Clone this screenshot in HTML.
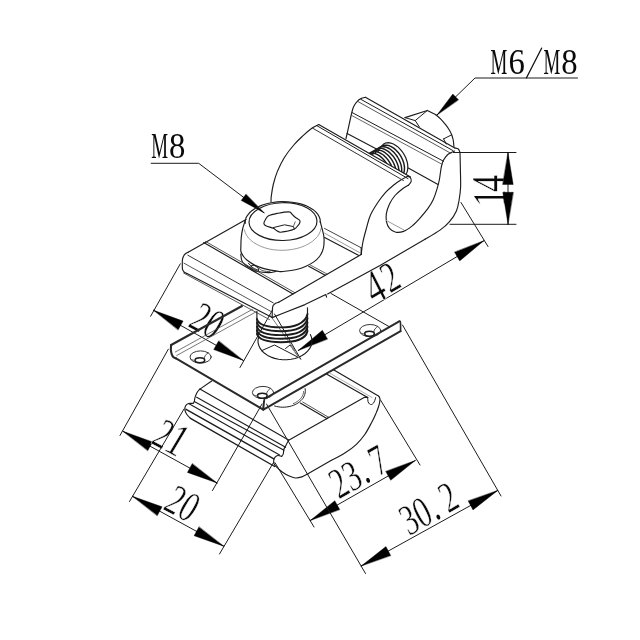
<!DOCTYPE html>
<html><head><meta charset="utf-8"><title>Clamp drawing</title>
<style>
html,body{margin:0;padding:0;background:#fff;}
body{width:640px;height:640px;overflow:hidden;}
svg{display:block}
svg text{font-family:"Liberation Serif",serif;fill:#0a0a0a;}
</style></head><body>
<svg width="640" height="640" viewBox="0 0 640 640" stroke-linecap="round" stroke-linejoin="round">
<rect width="640" height="640" fill="#fff"/>
<g opacity="0.999">
<g transform="translate(168.5 146.0) rotate(0) skewX(0)"><text transform="translate(-17.30 11.63) scale(0.5323 1)" font-size="35.5">M</text><text transform="translate(8.80 11.63) scale(0.9221 1)" font-size="35.50" text-anchor="middle">8</text></g>
<path d="M151.2,163.3 L198.7,163.3 L264.0,212.8" stroke="#1c1c1c" stroke-width="1.0" fill="none" />
<polygon points="264.0,212.8 241.2,200.4 245.9,194.2" fill="#000" stroke="#000" stroke-width="0.4"/>
<g transform="translate(534.3 62.8) rotate(0) skewX(0)"><text transform="translate(-43.70 11.63) scale(0.5323 1)" font-size="35.5">M</text><text transform="translate(-17.60 11.63) scale(0.9221 1)" font-size="35.50" text-anchor="middle">6</text><path d="M-7.80,15.03 L7.30,-14.63" stroke="#111" stroke-width="1.3" fill="none"/><text transform="translate(9.10 11.63) scale(0.5323 1)" font-size="35.5">M</text><text transform="translate(35.20 11.63) scale(0.9221 1)" font-size="35.50" text-anchor="middle">8</text></g>
<path d="M577.5,78.0 L475.0,78.0 L437.0,115.0" stroke="#1c1c1c" stroke-width="1.0" fill="none" />
<polygon points="437.0,115.0 452.8,94.0 458.4,99.7" fill="#000" stroke="#000" stroke-width="0.4"/>
<path d="M453.5,152.5 L516.0,152.5" stroke="#1c1c1c" stroke-width="1.0" fill="none" />
<path d="M450.0,224.3 L516.0,224.3" stroke="#1c1c1c" stroke-width="1.0" fill="none" />
<g transform="translate(489.0 189.3) rotate(-90) skewX(0)"><text transform="translate(-8.65 15.85) scale(0.7359 1)" font-size="46.98" text-anchor="middle" stroke="#fff" stroke-width="0.5">1</text><text transform="translate(5.85 14.85) scale(0.7359 1)" font-size="46.98" text-anchor="middle" stroke="#fff" stroke-width="0.5">4</text></g>
<path d="M508.0,152.5 L508.0,224.3" stroke="#1c1c1c" stroke-width="1.0" fill="none" />
<polygon points="508.0,152.5 513.2,184.5 502.8,184.5" fill="#000" stroke="#000" stroke-width="0.4"/>
<polygon points="508.0,224.3 502.8,192.3 513.2,192.3" fill="#000" stroke="#000" stroke-width="0.4"/>
<path d="M461.0,202.5 L488.0,246.5" stroke="#1c1c1c" stroke-width="1.0" fill="none" />
<path d="M274.5,314.0 L300.8,359.3" stroke="#1c1c1c" stroke-width="1.0" fill="none" />
<path d="M270.3,315.5 L295.0,350.5" stroke="#555" stroke-width="0.8" fill="none" />
<path d="M298.3,350.4 L483.8,240.8" stroke="#1c1c1c" stroke-width="1.0" fill="none" />
<polygon points="298.3,350.4 322.4,330.3 327.5,338.9" fill="#000" stroke="#000" stroke-width="0.4"/>
<polygon points="483.8,240.8 459.7,260.9 454.6,252.3" fill="#000" stroke="#000" stroke-width="0.4"/>
<g transform="translate(383.4 281.0) rotate(-30) skewX(-3)"><text transform="translate(-10.55 16.55) scale(0.7359 1)" font-size="46.98" text-anchor="middle" stroke="#fff" stroke-width="0.5">4</text><text transform="translate(7.55 14.25) scale(0.6943 1)" font-size="43.50" text-anchor="middle" stroke="#fff" stroke-width="0.5">2</text></g>
<path d="M180.3,263.8 L150.6,316.3" stroke="#1c1c1c" stroke-width="1.0" fill="none" />
<path d="M272.5,310.0 L240.0,367.5" stroke="#1c1c1c" stroke-width="1.0" fill="none" />
<path d="M153.6,310.3 L243.2,360.4" stroke="#1c1c1c" stroke-width="1.0" fill="none" />
<polygon points="153.6,310.3 183.1,321.1 178.2,329.8" fill="#000" stroke="#000" stroke-width="0.4"/>
<polygon points="243.2,360.4 213.7,349.6 218.6,340.9" fill="#000" stroke="#000" stroke-width="0.4"/>
<g transform="translate(207.3 320.8) rotate(28) skewX(-3)"><text transform="translate(-7.55 14.25) scale(0.6943 1)" font-size="43.50" text-anchor="middle" stroke="#fff" stroke-width="0.5">2</text><text transform="translate(7.55 14.25) scale(0.6943 1)" font-size="43.50" text-anchor="middle" stroke="#fff" stroke-width="0.5">0</text></g>
<path d="M168.3,349.2 L120.0,435.5" stroke="#1c1c1c" stroke-width="1.0" fill="none" />
<path d="M262.0,404.0 L212.5,490.5" stroke="#1c1c1c" stroke-width="1.0" fill="none" />
<path d="M123.0,431.3 L217.0,483.0" stroke="#1c1c1c" stroke-width="1.0" fill="none" />
<polygon points="123.0,431.3 152.6,441.9 147.8,450.6" fill="#000" stroke="#000" stroke-width="0.4"/>
<polygon points="217.0,483.0 187.4,472.4 192.2,463.7" fill="#000" stroke="#000" stroke-width="0.4"/>
<g transform="translate(170.5 437.5) rotate(28) skewX(-3)"><text transform="translate(-7.55 14.25) scale(0.6943 1)" font-size="43.50" text-anchor="middle" stroke="#fff" stroke-width="0.5">2</text><text transform="translate(7.55 14.25) scale(0.7359 1)" font-size="46.98" text-anchor="middle" stroke="#fff" stroke-width="0.5">1</text></g>
<path d="M184.0,409.0 L129.5,501.5" stroke="#1c1c1c" stroke-width="1.0" fill="none" />
<path d="M273.5,462.5 L219.5,554.0" stroke="#1c1c1c" stroke-width="1.0" fill="none" />
<path d="M132.5,496.3 L223.7,546.2" stroke="#1c1c1c" stroke-width="1.0" fill="none" />
<polygon points="132.5,496.3 162.1,506.8 157.3,515.6" fill="#000" stroke="#000" stroke-width="0.4"/>
<polygon points="223.7,546.2 194.1,535.7 198.9,526.9" fill="#000" stroke="#000" stroke-width="0.4"/>
<g transform="translate(182.5 503.5) rotate(28) skewX(-3)"><text transform="translate(-7.55 14.25) scale(0.6943 1)" font-size="43.50" text-anchor="middle" stroke="#fff" stroke-width="0.5">2</text><text transform="translate(7.55 14.25) scale(0.6943 1)" font-size="43.50" text-anchor="middle" stroke="#fff" stroke-width="0.5">0</text></g>
<path d="M275.0,462.7 L314.0,527.0" stroke="#1c1c1c" stroke-width="1.0" fill="none" />
<path d="M380.5,400.0 L420.0,465.0" stroke="#1c1c1c" stroke-width="1.0" fill="none" />
<path d="M310.3,520.4 L415.2,460.6" stroke="#1c1c1c" stroke-width="1.0" fill="none" />
<polygon points="310.3,520.4 334.8,500.7 339.7,509.4" fill="#000" stroke="#000" stroke-width="0.4"/>
<polygon points="415.2,460.6 390.7,480.3 385.8,471.6" fill="#000" stroke="#000" stroke-width="0.4"/>
<g transform="translate(358.4 471.9) rotate(-30) skewX(-3)"><text transform="translate(-22.65 14.25) scale(0.6943 1)" font-size="43.50" text-anchor="middle" stroke="#fff" stroke-width="0.5">2</text><text transform="translate(-7.55 14.25) scale(0.6943 1)" font-size="43.50" text-anchor="middle" stroke="#fff" stroke-width="0.5">3</text><text transform="translate(1.00 14.25) scale(0.6943 1)" font-size="43.5">.</text><text transform="translate(22.65 14.25) scale(0.6943 1)" font-size="43.50" text-anchor="middle" stroke="#fff" stroke-width="0.5">7</text></g>
<path d="M266.5,404.0 L365.5,573.5" stroke="#1c1c1c" stroke-width="1.0" fill="none" />
<path d="M402.5,325.0 L501.0,496.0" stroke="#1c1c1c" stroke-width="1.0" fill="none" />
<path d="M361.2,566.0 L497.7,490.5" stroke="#1c1c1c" stroke-width="1.0" fill="none" />
<polygon points="361.2,566.0 385.9,546.6 390.7,555.4" fill="#000" stroke="#000" stroke-width="0.4"/>
<polygon points="497.7,490.5 473.0,509.9 468.2,501.1" fill="#000" stroke="#000" stroke-width="0.4"/>
<g transform="translate(428.7 508.5) rotate(-30) skewX(-3)"><text transform="translate(-22.65 14.25) scale(0.6943 1)" font-size="43.50" text-anchor="middle" stroke="#fff" stroke-width="0.5">3</text><text transform="translate(-7.55 14.25) scale(0.6943 1)" font-size="43.50" text-anchor="middle" stroke="#fff" stroke-width="0.5">0</text><text transform="translate(1.00 14.25) scale(0.6943 1)" font-size="43.5">.</text><text transform="translate(22.65 14.25) scale(0.6943 1)" font-size="43.50" text-anchor="middle" stroke="#fff" stroke-width="0.5">2</text></g>
<ellipse cx="283.0" cy="221.6" rx="34.0" ry="18.9" transform="rotate(-1.0 283.0 221.6)" stroke="#1c1c1c" stroke-width="1.15" fill="none"/>
<path d="M245.1,223.4 L245.3,220.6 L246.0,217.9 L247.5,215.3 L249.5,212.8 L252.2,210.4 L255.4,208.3 L259.1,206.4 L263.2,204.8 L267.7,203.5 L272.4,202.5 L277.3,201.9 L282.3,201.6 L287.4,201.7 L292.3,202.2 L297.1,203.0 L301.6,204.1 L305.7,205.6 L309.5,207.4 L312.8,209.4 L315.5,211.6 L317.7,214.1 L319.2,216.7 L320.1,219.3 L320.3,222.1" stroke="#1c1c1c" stroke-width="1.15" fill="none" />
<path d="M321.1,228.3 L320.4,231.2 L319.1,234.0 L317.3,236.7 L314.9,239.2 L312.1,241.6 L308.8,243.7 L305.2,245.6 L301.2,247.2 L296.9,248.5 L292.4,249.4 L287.8,250.0 L283.1,250.3 L278.4,250.2 L273.8,249.8 L269.3,249.0 L264.9,247.8 L260.9,246.4 L257.2,244.6 L253.8,242.6 L250.9,240.4 L248.5,237.9 L246.6,235.3 L245.2,232.5 L244.4,229.7" stroke="#9a9a9a" stroke-width="1.0" fill="none" />
<path d="M245.2,220.5 C244.8,221.9 243.3,226.1 242.6,229.0 C241.9,231.9 241.5,235.2 241.2,238.0 C240.9,240.8 240.9,243.8 240.9,246.0 C240.9,248.2 240.5,249.8 240.9,251.5 C241.3,253.2 242.5,255.1 243.5,256.5 C244.5,257.9 245.0,258.5 246.9,260.0 C248.8,261.5 252.2,263.9 255.0,265.3 C257.9,266.7 260.1,267.6 264.0,268.6 C267.9,269.6 275.3,270.9 278.7,271.4 C282.1,271.8 281.3,271.7 284.4,271.3 C287.5,270.9 293.9,270.1 297.5,269.2 C301.1,268.3 303.2,267.5 306.0,266.2 C308.8,264.9 311.9,263.2 314.2,261.6 C316.4,260.0 318.1,258.3 319.5,256.5 C320.9,254.7 321.8,252.9 322.5,251.0 C323.2,249.1 323.7,247.5 323.9,245.0 C324.1,242.5 324.4,239.9 323.8,236.0 C323.2,232.1 320.8,223.9 320.2,221.5" stroke="#1c1c1c" stroke-width="1.15" fill="none" />
<path d="M263.9,223.6 C263.8,222.5 264.8,220.5 265.6,219.2 C266.4,217.9 266.7,216.8 268.6,215.8 C270.5,214.8 273.8,214.1 277.2,213.4 C280.6,212.8 286.4,211.7 288.9,211.9 C291.4,212.1 291.1,213.5 292.2,214.4 C293.2,215.3 293.9,216.3 295.2,217.3 C296.5,218.3 299.1,219.5 299.8,220.5 C300.5,221.5 299.9,222.4 299.6,223.2 C299.4,224.0 299.2,224.2 298.3,225.2 C297.4,226.2 296.3,228.0 294.4,229.0 C292.5,230.0 289.4,230.7 287.0,231.2 C284.6,231.7 282.1,232.3 280.3,232.2 C278.6,232.1 277.7,231.2 276.5,230.5 C275.3,229.8 275.0,229.1 273.3,228.3 C271.6,227.5 267.9,226.7 266.3,225.9 C264.7,225.1 264.0,224.7 263.9,223.6Z" stroke="#1c1c1c" stroke-width="1.15" fill="none" />
<path d="M273.3,227.6 L284.6,224.8 L293.4,226.6 L294.4,229.0" stroke="#1c1c1c" stroke-width="1.0" fill="none" />
<path d="M293.4,226.6 L295.2,221.8" stroke="#555" stroke-width="0.9" fill="none" />
<path d="M240.8,254.0 C241.0,255.2 240.9,259.3 242.2,261.5 C243.5,263.7 245.8,265.3 248.4,267.0 C251.0,268.7 254.4,270.6 257.8,271.5 C261.2,272.4 265.7,272.6 268.7,272.6 C271.7,272.6 274.8,271.6 276.0,271.4" stroke="#1c1c1c" stroke-width="1.15" fill="none" />
<path d="M248.4,263.2 C249.2,264.0 251.3,266.6 253.0,267.8 C254.7,269.0 257.7,269.8 258.6,270.2" stroke="#1c1c1c" stroke-width="1.0" fill="none" />
<ellipse cx="254.7" cy="268.6" rx="4.2" ry="2.6" transform="rotate(30 254.7 268.6)" stroke="#1c1c1c" stroke-width="0.9" fill="none"/>
<path d="M258.5,268.0 C259.2,268.5 261.1,270.2 263.0,270.8 C264.9,271.4 268.8,271.5 270.0,271.6" stroke="#444" stroke-width="0.9" fill="none" />
<path d="M246.0,219.6 L188.1,252.2" stroke="#1c1c1c" stroke-width="1.15" fill="none" />
<path d="M188.1,252.2 C187.5,252.6 185.2,253.7 184.3,254.9 C183.4,256.1 182.8,257.8 182.5,259.4 C182.2,261.0 182.3,262.9 182.3,264.5 C182.3,266.1 182.2,268.0 182.5,269.3 C182.8,270.6 183.7,271.6 184.4,272.3 C185.2,273.0 186.6,273.4 187.0,273.6" stroke="#1c1c1c" stroke-width="1.15" fill="none" />
<path d="M187.0,273.6 L272.2,317.6" stroke="#1c1c1c" stroke-width="1.15" fill="none" />
<path d="M187.8,255.2 L273.3,302.9" stroke="#333" stroke-width="1.0" fill="none" />
<path d="M184.0,263.2 L271.2,311.6" stroke="#555" stroke-width="1.0" fill="none" />
<path d="M183.6,273.0 L269.5,319.6" stroke="#444" stroke-width="0.9" fill="none" />
<path d="M203.7,242.6 L293.0,294.0" stroke="#1c1c1c" stroke-width="1.15" fill="none" />
<path d="M205.5,241.4 L295.0,292.8" stroke="#444" stroke-width="0.9" fill="none" />
<path d="M308.7,266.3 L325.2,275.2" stroke="#1c1c1c" stroke-width="1.15" fill="none" />
<path d="M310.2,265.0 L327.0,274.0" stroke="#555" stroke-width="0.9" fill="none" />
<path d="M278.7,302.2 C278.2,302.4 276.4,302.8 275.5,303.3 C274.6,303.9 273.6,304.5 273.1,305.5 C272.6,306.5 272.5,307.5 272.4,309.5 C272.2,311.5 272.2,316.2 272.2,317.6" stroke="#1c1c1c" stroke-width="1.15" fill="none" />
<path d="M278.7,302.2 L361.2,254.4" stroke="#1c1c1c" stroke-width="1.15" fill="none" />
<path d="M272.2,317.6 L283.0,313.2 L305.0,304.6 L325.8,294.4 L326.6,297.2" stroke="#1c1c1c" stroke-width="1.15" fill="none" />
<path d="M327.6,294.0 L380.0,265.4 L425.0,239.3" stroke="#1c1c1c" stroke-width="1.15" fill="none" />
<path d="M324.5,228.4 L361.2,247.8" stroke="#444" stroke-width="1.0" fill="none" />
<path d="M324.6,233.2 L359.4,252.5" stroke="#9a9a9a" stroke-width="1.0" fill="none" />
<path d="M324.6,237.4 L358.4,255.3" stroke="#1c1c1c" stroke-width="1.15" fill="none" />
<path d="M361.2,247.8 L361.2,254.4" stroke="#1c1c1c" stroke-width="1.15" fill="none" />
<path d="M460.0,152.5 C460.1,155.4 460.3,164.2 460.4,170.0 C460.5,175.8 460.8,182.0 460.6,187.0 C460.4,192.0 459.8,196.0 459.1,200.0 C458.4,204.0 458.0,207.2 456.4,210.9 C454.8,214.6 452.0,218.7 449.3,221.9 C446.6,225.1 444.1,227.2 440.0,230.1 C435.9,233.0 427.5,237.8 425.0,239.3" stroke="#1c1c1c" stroke-width="1.15" fill="none" />
<path d="M453.7,152.5 L460.0,152.5" stroke="#1c1c1c" stroke-width="1.15" fill="none" />
<path d="M407.5,176.2 C406.4,176.8 403.6,178.3 401.2,179.8 C398.8,181.3 396.0,183.2 393.4,185.3 C390.8,187.4 388.2,189.4 385.6,192.3 C383.0,195.2 380.3,198.7 377.8,202.5 C375.3,206.3 372.4,210.8 370.5,215.0 C368.6,219.2 367.8,223.4 366.5,228.0 C365.2,232.6 363.7,238.1 362.8,242.5 C361.9,246.9 361.5,252.4 361.2,254.4" stroke="#1c1c1c" stroke-width="1.15" fill="none" />
<path d="M407.5,176.2 C408.0,176.4 409.7,176.6 410.3,177.5 C410.9,178.4 411.5,180.1 411.2,181.4 C410.9,182.7 408.8,184.7 408.3,185.3" stroke="#1c1c1c" stroke-width="1.15" fill="none" />
<path d="M408.3,185.3 C407.2,186.0 404.2,187.5 402.0,189.2 C399.8,190.9 397.1,193.0 395.0,195.5 C392.9,198.0 390.9,201.0 389.5,204.0 C388.1,207.0 386.9,210.5 386.4,213.4 C385.9,216.3 385.9,218.8 386.4,221.3 C386.9,223.8 387.9,226.5 389.5,228.3 C391.1,230.1 393.4,231.7 395.8,232.2 C398.2,232.7 400.9,232.4 403.6,231.4 C406.3,230.4 409.5,228.1 412.2,225.9 C414.9,223.7 417.4,221.0 420.0,218.1 C422.6,215.2 425.6,211.8 427.8,208.7 C430.0,205.6 431.7,202.8 433.3,199.4 C434.9,196.0 436.2,191.8 437.2,188.4 C438.2,185.0 438.9,182.4 439.5,179.0 C440.1,175.6 440.5,171.2 441.1,168.1 C441.8,165.0 442.2,162.6 443.4,160.3 C444.6,158.0 446.2,155.8 448.1,154.2 C450.0,152.6 453.4,151.5 454.5,151.0" stroke="#1c1c1c" stroke-width="1.15" fill="none" />
<path d="M386.4,220.5 L403.6,229.8" stroke="#9a9a9a" stroke-width="1.0" fill="none" />
<path d="M318.7,124.5 C317.7,125.0 315.1,126.0 312.5,127.8 C309.9,129.7 306.2,132.7 303.1,135.6 C300.0,138.5 296.9,141.3 293.8,145.0 C290.6,148.7 287.1,153.1 284.4,157.5 C281.7,161.9 279.1,167.2 277.3,171.6 C275.5,176.0 274.4,179.9 273.4,184.0 C272.4,188.1 271.7,193.0 271.3,196.0 C270.9,199.0 271.1,200.8 271.0,201.8" stroke="#1c1c1c" stroke-width="1.15" fill="none" />
<path d="M318.7,124.5 L410.5,177.1" stroke="#1c1c1c" stroke-width="1.15" fill="none" />
<path d="M316.9,125.7 L408.0,178.6" stroke="#1c1c1c" stroke-width="1.0" fill="none" />
<path d="M312.5,128.1 L403.5,180.6" stroke="#333" stroke-width="1.0" fill="none" />
<path d="M365.4,97.3 C364.7,97.5 362.4,97.9 361.0,98.6 C359.6,99.3 358.4,100.1 357.3,101.3 C356.2,102.5 355.1,103.9 354.2,105.5 C353.3,107.1 353.0,107.8 352.2,111.0 C351.4,114.2 350.1,120.1 349.1,124.7 C348.1,129.3 346.5,136.2 346.0,138.5" stroke="#1c1c1c" stroke-width="1.15" fill="none" />
<path d="M365.4,97.3 L454.8,148.0" stroke="#1c1c1c" stroke-width="1.15" fill="none" />
<path d="M360.8,99.3 L453.0,150.6" stroke="#1c1c1c" stroke-width="1.0" fill="none" />
<path d="M358.0,101.6 L451.0,153.4" stroke="#444" stroke-width="0.9" fill="none" />
<path d="M454.8,148.0 C455.4,148.2 457.4,148.2 458.3,149.0 C459.2,149.8 459.7,151.9 460.0,152.5" stroke="#1c1c1c" stroke-width="1.15" fill="none" />
<path d="M352.2,112.6 L443.6,161.3" stroke="#1c1c1c" stroke-width="1.0" fill="none" />
<path d="M351.6,115.4 L442.2,164.4" stroke="#555" stroke-width="0.9" fill="none" />
<path d="M347.1,133.5 L378.4,150.0" stroke="#1c1c1c" stroke-width="1.15" fill="none" />
<path d="M408.3,168.1 L438.0,184.5" stroke="#1c1c1c" stroke-width="1.15" fill="none" />
<clipPath id="thr"><polygon points="340,136.7 408,175.7 430,175 430,120 340,120"/></clipPath>
<g clip-path="url(#thr)">
<path d="M400.9,177.2 L401.9,177.0 L403.0,176.6 L403.9,176.1 L404.7,175.5 L405.5,174.7 L406.2,173.8 L406.7,172.8 L407.2,171.7 L407.5,170.5 L407.7,169.2 L407.8,167.8 L407.8,166.4 L407.7,164.9 L407.5,163.3 L407.1,161.8 L406.6,160.2 L406.1,158.6 L405.4,157.0 L404.6,155.5 L403.8,154.0 L402.8,152.5 L401.8,151.1 L400.7,149.8 L399.6,148.6 L398.4,147.4 L397.2,146.4 L395.9,145.5 L394.6,144.7 L393.4,144.0 L392.1,143.5 L390.8,143.1 L389.6,142.8 L388.4,142.7 L387.2,142.8 L386.2,142.9 L385.1,143.3 L384.2,143.7 L383.3,144.3 L382.5,145.1 L381.8,145.9" stroke="#1c1c1c" stroke-width="1.2" fill="none" />
<path d="M397.8,178.0 L398.9,177.8 L399.9,177.4 L400.9,176.9 L401.7,176.2 L402.5,175.4 L403.1,174.4 L403.6,173.3 L404.0,172.1 L404.3,170.8 L404.4,169.5 L404.5,168.0 L404.4,166.5 L404.1,164.9 L403.8,163.3 L403.3,161.7 L402.7,160.1 L402.0,158.5 L401.2,156.9 L400.3,155.4 L399.3,153.9 L398.2,152.5 L397.0,151.2 L395.8,150.0 L394.6,148.9 L393.3,147.9 L392.0,147.1 L390.7,146.4 L389.4,145.8 L388.1,145.4 L386.9,145.2 L385.7,145.1 L384.5,145.2 L383.4,145.4 L382.4,145.8 L381.4,146.3 L380.6,147.0 L379.8,147.8 L379.2,148.8 L378.7,149.9 L378.3,151.1" stroke="#1c1c1c" stroke-width="1.45" fill="none" />
<path d="M395.1,179.6 L396.2,179.4 L397.2,179.0 L398.1,178.5 L399.0,177.8 L399.7,177.0 L400.3,176.0 L400.9,174.9 L401.3,173.7 L401.5,172.4 L401.7,171.1 L401.7,169.6 L401.6,168.1 L401.4,166.5 L401.0,164.9 L400.5,163.3 L399.9,161.7 L399.2,160.1 L398.4,158.5 L397.5,157.0 L396.5,155.5 L395.4,154.1 L394.3,152.8 L393.1,151.6 L391.8,150.5 L390.6,149.5 L389.3,148.7 L388.0,148.0 L386.7,147.4 L385.4,147.0 L384.1,146.8 L382.9,146.7 L381.7,146.8 L380.6,147.0 L379.6,147.4 L378.7,147.9 L377.8,148.6 L377.1,149.4 L376.5,150.4 L375.9,151.5 L375.5,152.7" stroke="#1c1c1c" stroke-width="1.45" fill="none" />
<path d="M392.3,181.2 L393.4,181.0 L394.4,180.6 L395.4,180.1 L396.2,179.4 L397.0,178.6 L397.6,177.6 L398.1,176.5 L398.5,175.3 L398.8,174.0 L398.9,172.7 L399.0,171.2 L398.9,169.7 L398.6,168.1 L398.3,166.5 L397.8,164.9 L397.2,163.3 L396.5,161.7 L395.7,160.1 L394.8,158.6 L393.8,157.1 L392.7,155.7 L391.5,154.4 L390.3,153.2 L389.1,152.1 L387.8,151.1 L386.5,150.3 L385.2,149.6 L383.9,149.0 L382.6,148.6 L381.4,148.4 L380.2,148.3 L379.0,148.4 L377.9,148.6 L376.9,149.0 L375.9,149.5 L375.1,150.2 L374.3,151.0 L373.7,152.0 L373.2,153.1 L372.8,154.3" stroke="#1c1c1c" stroke-width="1.45" fill="none" />
<path d="M389.6,182.8 L390.7,182.6 L391.7,182.2 L392.6,181.7 L393.5,181.0 L394.2,180.2 L394.8,179.2 L395.4,178.1 L395.8,176.9 L396.0,175.6 L396.2,174.3 L396.2,172.8 L396.1,171.3 L395.9,169.7 L395.5,168.1 L395.0,166.5 L394.4,164.9 L393.7,163.3 L392.9,161.7 L392.0,160.2 L391.0,158.7 L389.9,157.3 L388.8,156.0 L387.6,154.8 L386.3,153.7 L385.1,152.7 L383.8,151.9 L382.5,151.2 L381.2,150.6 L379.9,150.2 L378.6,150.0 L377.4,149.9 L376.2,150.0 L375.1,150.2 L374.1,150.6 L373.2,151.1 L372.3,151.8 L371.6,152.6 L371.0,153.6 L370.4,154.7 L370.0,155.9" stroke="#1c1c1c" stroke-width="1.45" fill="none" />
<path d="M386.8,184.4 L387.9,184.2 L388.9,183.8 L389.9,183.3 L390.7,182.6 L391.5,181.8 L392.1,180.8 L392.6,179.7 L393.0,178.5 L393.3,177.2 L393.4,175.9 L393.5,174.4 L393.4,172.9 L393.1,171.3 L392.8,169.7 L392.3,168.1 L391.7,166.5 L391.0,164.9 L390.2,163.3 L389.3,161.8 L388.3,160.3 L387.2,158.9 L386.0,157.6 L384.8,156.4 L383.6,155.3 L382.3,154.3 L381.0,153.5 L379.7,152.8 L378.4,152.2 L377.1,151.8 L375.9,151.6 L374.7,151.5 L373.5,151.6 L372.4,151.8 L371.4,152.2 L370.4,152.7 L369.6,153.4 L368.8,154.2 L368.2,155.2 L367.7,156.3 L367.3,157.5" stroke="#1c1c1c" stroke-width="1.45" fill="none" />
<path d="M384.1,186.0 L385.2,185.8 L386.2,185.4 L387.1,184.9 L388.0,184.2 L388.7,183.4 L389.3,182.4 L389.9,181.3 L390.3,180.1 L390.5,178.8 L390.7,177.5 L390.7,176.0 L390.6,174.5 L390.4,172.9 L390.0,171.3 L389.5,169.7 L388.9,168.1 L388.2,166.5 L387.4,164.9 L386.5,163.4 L385.5,161.9 L384.4,160.5 L383.3,159.2 L382.1,158.0 L380.8,156.9 L379.6,155.9 L378.3,155.1 L377.0,154.4 L375.7,153.8 L374.4,153.4 L373.1,153.2 L371.9,153.1 L370.7,153.2 L369.6,153.4 L368.6,153.8 L367.7,154.3 L366.8,155.0 L366.1,155.8 L365.5,156.8 L364.9,157.9 L364.5,159.1" stroke="#1c1c1c" stroke-width="1.45" fill="none" />
</g>
<path d="M405.0,117.6 L427.3,110.5 L435.5,114.5" stroke="#1c1c1c" stroke-width="1.15" fill="none" />
<path d="M435.5,114.5 C436.4,115.3 439.3,117.6 441.0,119.3 C442.7,121.0 444.2,122.9 445.6,124.7 C447.0,126.5 448.3,128.3 449.3,130.0 C450.3,131.7 451.1,133.1 451.7,134.8 C452.3,136.5 452.8,138.1 453.2,140.0 C453.6,141.9 453.8,145.4 453.9,146.5" stroke="#1c1c1c" stroke-width="1.15" fill="none" />
<path d="M405.0,117.6 L415.2,120.6 L427.3,110.5" stroke="#1c1c1c" stroke-width="1.0" fill="none" />
<path d="M415.2,120.6 L419.4,127.0" stroke="#1c1c1c" stroke-width="1.0" fill="none" />
<path d="M443.6,138.9 L451.7,134.8" stroke="#1c1c1c" stroke-width="1.0" fill="none" />
<path d="M443.6,138.9 L446.2,144.0" stroke="#1c1c1c" stroke-width="1.0" fill="none" />
<path d="M256.9,311.5 L256.9,333.8" stroke="#1c1c1c" stroke-width="1.15" fill="none" />
<path d="M307.5,307.7 L307.5,331.6" stroke="#1c1c1c" stroke-width="1.15" fill="none" />
<path d="M256.9,319.0 C258.5,325.5 268,327.4 281,327.4 C294,327.4 305.5,323.5 307.5,314.0" stroke="#1c1c1c" stroke-width="1.9" fill="none" />
<path d="M256.9,322.6 C258.5,329.1 268,331.2 281,331.2 C294,331.2 305.5,327.8 307.5,318.3" stroke="#1c1c1c" stroke-width="1.9" fill="none" />
<path d="M256.9,326.5 C258.5,333.0 268,335.1 281,335.1 C294,335.1 305.5,332.0 307.5,322.5" stroke="#1c1c1c" stroke-width="1.9" fill="none" />
<path d="M256.9,330.2 C258.5,336.7 268,338.7 281,338.7 C294,338.7 305.5,336.2 307.5,326.7" stroke="#1c1c1c" stroke-width="1.9" fill="none" />
<path d="M256.9,333.8 C258.5,340.3 268,342.2 281,342.2 C294,342.2 305.5,340.5 307.5,331.0" stroke="#1c1c1c" stroke-width="1.9" fill="none" />
<path d="M310.4,334.6 L311.5,337.4 L312.0,340.2 L311.8,343.1 L311.0,346.0 L309.6,348.7 L307.6,351.2 L305.1,353.5 L302.1,355.5 L298.7,357.2 L295.0,358.5 L291.0,359.3 L286.9,359.8 L282.7,359.7 L278.6,359.3 L274.7,358.4 L271.0,357.1 L267.6,355.4 L264.6,353.3 L262.1,351.0 L260.2,348.4 L258.9,345.7 L258.1,342.9 L258.0,340.0 L258.6,337.1" stroke="#1c1c1c" stroke-width="1.15" fill="none" />
<path d="M261.8,350.6 L274.5,345.0 L299.0,357.7" stroke="#1c1c1c" stroke-width="1.0" fill="none" />
<path d="M285.5,348.5 L290.0,345.0 L297.5,355.5" stroke="#1c1c1c" stroke-width="1.0" fill="none" />
<path d="M291.0,346.5 L299.5,358.6" stroke="#9a9a9a" stroke-width="0.9" fill="none" />
<path d="M242.0,306.0 L171.1,345.0" stroke="#2a2a2a" stroke-width="2.1" fill="none" />
<path d="M171.1,345.0 C171.1,345.8 170.8,348.5 170.9,350.0 C171.0,351.5 171.3,352.9 171.7,354.1 C172.1,355.3 172.6,356.3 173.3,357.0 C174.0,357.7 175.6,358.2 176.0,358.4" stroke="#2a2a2a" stroke-width="2.1" fill="none" />
<path d="M176.0,358.4 L262.8,409.4" stroke="#2a2a2a" stroke-width="2.0" fill="none" />
<path d="M175.3,352.0 L252.5,309.3" stroke="#555" stroke-width="0.8" fill="none" />
<path d="M176.7,355.5 L256.5,311.6" stroke="#555" stroke-width="0.8" fill="none" />
<path d="M263.7,401.0 L262.8,409.4" stroke="#1c1c1c" stroke-width="1.15" fill="none" />
<path d="M266.0,398.2 L399.2,321.3" stroke="#2a2a2a" stroke-width="2.0" fill="none" />
<path d="M263.4,409.7 L400.6,331.2" stroke="#2a2a2a" stroke-width="2.0" fill="none" />
<path d="M399.2,321.3 C399.4,321.4 400.2,320.6 400.4,322.2 C400.6,323.8 400.6,329.7 400.6,331.2" stroke="#2a2a2a" stroke-width="1.6" fill="none" />
<path d="M264.4,398.6 L263.4,409.7" stroke="#2a2a2a" stroke-width="1.6" fill="none" />
<path d="M389.4,326.8 L331.0,293.5" stroke="#1c1c1c" stroke-width="1.0" fill="none" />
<ellipse cx="200.6" cy="357.0" rx="10.6" ry="6.1" transform="rotate(0 200.6 357.0)" stroke="#333" stroke-width="1.0" fill="none"/>
<ellipse cx="199.9" cy="360.2" rx="4.8" ry="2.5" transform="rotate(0 199.9 360.2)" stroke="#1c1c1c" stroke-width="1.6" fill="none"/>
<path d="M204.2,358.6 C204.4,358.1 204.5,356.5 205.2,355.5 C205.9,354.5 207.7,353.2 208.2,352.8" stroke="#333" stroke-width="0.9" fill="none" />
<path d="M195.2,360.6 L190.8,359.4" stroke="#444" stroke-width="0.8" fill="none" />
<ellipse cx="370.2" cy="330.6" rx="10.6" ry="6.1" transform="rotate(0 370.2 330.6)" stroke="#333" stroke-width="1.0" fill="none"/>
<ellipse cx="369.5" cy="333.8" rx="4.8" ry="2.5" transform="rotate(0 369.5 333.8)" stroke="#1c1c1c" stroke-width="1.6" fill="none"/>
<path d="M373.8,332.2 C374.0,331.7 374.1,330.1 374.8,329.1 C375.5,328.1 377.3,326.9 377.8,326.4" stroke="#333" stroke-width="0.9" fill="none" />
<path d="M364.8,334.2 L360.4,333.0" stroke="#444" stroke-width="0.8" fill="none" />
<ellipse cx="263.0" cy="392.5" rx="10.6" ry="6.1" transform="rotate(0 263.0 392.5)" stroke="#333" stroke-width="1.0" fill="none"/>
<ellipse cx="262.3" cy="395.7" rx="4.8" ry="2.5" transform="rotate(0 262.3 395.7)" stroke="#1c1c1c" stroke-width="1.6" fill="none"/>
<path d="M266.6,394.1 C266.8,393.6 266.9,392.0 267.6,391.0 C268.3,390.0 270.1,388.8 270.6,388.3" stroke="#333" stroke-width="0.9" fill="none" />
<path d="M257.6,396.1 L253.2,394.9" stroke="#444" stroke-width="0.8" fill="none" />
<path d="M211.7,381.0 L199.9,389.1" stroke="#1c1c1c" stroke-width="1.15" fill="none" />
<path d="M199.9,389.1 C199.4,389.7 197.6,391.4 196.8,392.9 C196.0,394.4 195.3,396.4 194.9,397.9 C194.5,399.3 194.6,400.7 194.3,401.6 C194.0,402.5 193.2,403.2 193.0,403.5" stroke="#1c1c1c" stroke-width="1.15" fill="none" />
<path d="M193.0,403.5 C192.3,403.5 189.8,403.1 188.6,403.5 C187.3,403.9 186.1,404.9 185.5,406.0 C184.9,407.1 184.7,408.4 184.9,409.8 C185.1,411.2 185.8,412.8 186.7,414.2 C187.6,415.6 189.9,417.6 190.5,418.3" stroke="#1c1c1c" stroke-width="1.15" fill="none" />
<path d="M199.9,389.1 L288.6,440.0" stroke="#1c1c1c" stroke-width="1.15" fill="none" />
<path d="M196.7,397.2 L285.6,447.3" stroke="#1c1c1c" stroke-width="1.1" fill="none" />
<path d="M194.3,401.6 L284.0,450.2" stroke="#1c1c1c" stroke-width="1.1" fill="none" />
<path d="M188.6,403.5 L279.6,455.0" stroke="#1c1c1c" stroke-width="1.1" fill="none" />
<path d="M186.1,409.3 L273.8,458.9" stroke="#1c1c1c" stroke-width="1.4" fill="none" />
<path d="M190.5,418.3 L274.7,466.5" stroke="#1c1c1c" stroke-width="1.4" fill="none" />
<path d="M288.7,440.2 C288.2,441.0 286.8,443.6 286.0,445.2 C285.2,446.8 284.2,448.1 283.8,449.5 C283.4,450.9 283.7,452.8 283.3,453.9 C282.9,455.0 281.9,456.0 281.6,456.4" stroke="#1c1c1c" stroke-width="1.15" fill="none" />
<path d="M281.6,456.4 C281.0,456.2 278.9,455.4 277.8,455.5 C276.7,455.6 275.8,456.4 275.1,457.2 C274.4,458.0 273.9,459.4 273.7,460.5 C273.5,461.6 273.5,462.6 274.0,463.7 C274.5,464.8 275.3,465.8 276.7,467.2 C278.1,468.6 280.2,470.6 282.2,472.0 C284.2,473.4 286.5,474.8 288.7,475.8 C290.9,476.8 293.1,477.8 295.3,478.0 C297.5,478.2 299.7,477.6 301.9,476.9 C304.1,476.2 307.3,474.2 308.4,473.6" stroke="#1c1c1c" stroke-width="1.15" fill="none" />
<path d="M288.7,440.2 L364.1,397.4 L367.7,397.4" stroke="#1c1c1c" stroke-width="1.15" fill="none" />
<path d="M367.7,397.4 C367.8,398.1 367.7,400.5 368.0,401.6 C368.3,402.7 369.0,403.5 369.6,404.0 C370.2,404.5 370.8,404.6 371.4,404.5 C372.0,404.4 372.8,403.9 373.4,403.2 C374.0,402.5 374.4,401.4 374.8,400.5 C375.2,399.6 375.5,398.1 375.6,397.6" stroke="#1c1c1c" stroke-width="1.0" fill="none" />
<path d="M378.9,396.4 C379.1,396.9 380.1,397.8 380.0,399.5 C379.9,401.2 379.4,404.0 378.6,406.5 C377.9,409.0 376.6,411.9 375.5,414.5 C374.4,417.1 373.7,418.7 371.9,422.0 C370.1,425.3 367.4,430.8 364.8,434.5 C362.2,438.2 359.7,441.2 356.4,444.3 C353.1,447.4 349.4,450.1 345.2,452.8 C341.0,455.5 333.4,459.3 331.0,460.6" stroke="#1c1c1c" stroke-width="1.15" fill="none" />
<path d="M331.0,460.6 L308.4,473.6" stroke="#1c1c1c" stroke-width="1.15" fill="none" />
<path d="M326.9,374.2 L367.7,397.4" stroke="#1c1c1c" stroke-width="1.15" fill="none" />
<path d="M333.9,370.0 L378.9,396.2" stroke="#1c1c1c" stroke-width="1.15" fill="none" />
<path d="M329.5,373.0 L372.0,397.5" stroke="#9a9a9a" stroke-width="0.8" fill="none" />
<path d="M300.3,403.0 L326.9,418.6" stroke="#1c1c1c" stroke-width="1.15" fill="none" />
<path d="M302.7,402.0 L328.4,417.2" stroke="#444" stroke-width="0.9" fill="none" />
<path d="M326.9,418.6 L328.4,417.2" stroke="#1c1c1c" stroke-width="0.9" fill="none" />
<path d="M305.1,388.7 L305.3,390.2 L305.3,391.6 L305.1,393.0 L304.8,394.4 L304.3,395.7 L303.7,397.1 L302.9,398.4 L301.9,399.6 L300.8,400.7 L299.6,401.8 L298.2,402.8 L296.7,403.8 L295.1,404.6 L293.5,405.3 L291.7,405.9 L289.9,406.4 L288.0,406.8 L286.1,407.0 L284.2,407.2 L282.2,407.2 L280.3,407.1 L278.4,406.8 L276.5,406.5 L274.6,406.0" stroke="#1c1c1c" stroke-width="1.0" fill="none" />
<path d="M303.6,391.5 L303.5,392.1 L303.5,392.7 L303.3,393.3 L303.2,394.0 L303.0,394.6 L302.8,395.1 L302.5,395.7 L302.2,396.3 L301.9,396.9 L301.5,397.4 L301.1,398.0 L300.7,398.5 L300.2,399.0 L299.7,399.5 L299.2,400.0 L298.6,400.5 L298.0,401.0 L297.4,401.4 L296.8,401.8 L296.1,402.2 L295.5,402.6 L294.8,403.0 L294.0,403.3 L293.3,403.6" stroke="#444" stroke-width="0.9" fill="none" />
</g>
</svg>
</body></html>
